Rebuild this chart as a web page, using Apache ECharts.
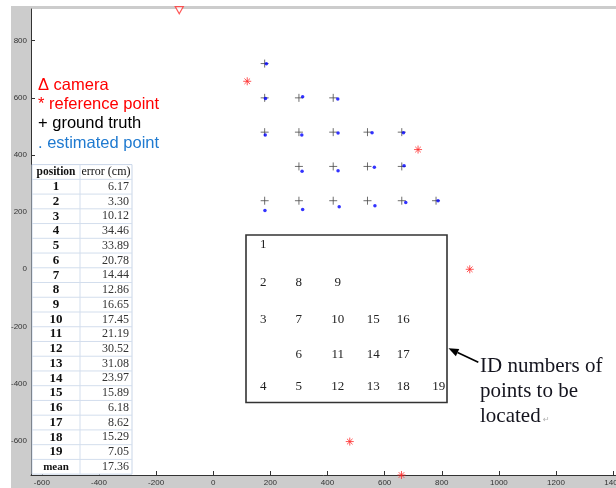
<!DOCTYPE html>
<html><head><meta charset="utf-8">
<script src="https://cdn.jsdelivr.net/npm/echarts@6/dist/echarts.min.js"></script>
<style>
html,body{margin:0;padding:0;background:#fff;overflow:hidden;}
#bg{position:absolute;left:11px;top:6px;width:605px;height:482px;background:#cccccc;}
#chart{position:absolute;left:0;top:0;width:616px;height:488px;}
</style>
</head><body><div id="bg"></div><div id="chart"></div>
<script>
// ---- data ----
const pointIds   = [1,2,3,4,5,6,7,8,9,10,11,12,13,14,15,16,17,18,19];
const errorsCm   = [6.17,3.30,10.12,34.46,33.89,20.78,14.44,12.86,16.65,17.45,21.19,30.52,31.08,23.97,15.89,6.18,8.62,15.29,7.05];
const meanError  = 17.36;
const truthX     = [180,180,180,180,300,300,300,300,420,420,420,420,540,540,540,660,660,660,780];
const truthY     = [720,600,480,240,240,360,480,600,600,480,360,240,240,360,480,480,360,240,240];
const estX       = [186,183,182,181,313,311,310,313,436,437,437,441,566,564,556,666,668,674,787];
const estY       = [719,598,470,206,209,343,470,604,596,477,345,219,222,357,478,478,362,234,240];
const refX       = [119,717,898,478,659];
const refY       = [658,419,0,-603,-720];
const cameraX    = [-119];
const cameraY    = [907];
const xTickVals  = [-600,-400,-200,0,200,400,600,800,1000,1200,1400];
const yTickVals  = [-600,-400,-200,0,200,400,600,800];
const legendLines = ['\u0394 camera','* reference point','+ ground truth','. estimated point'];
const calloutLines = ['ID numbers of','points to be','located'];

// ---- layout / style ----
const zip = (a,b) => a.map((v,i)=>[v,b[i]]);
const graphics = [];

// legend text
const legendColors = ['#ff0000','#ff0000','#000000','#1f7ad0'];
legendLines.forEach((t,i)=>{
  graphics.push({type:'text', z:100, style:{text:t, x:38, y:85.3+i*19.3, textAlign:'left', textVerticalAlign:'middle',
    fontSize:16.5, fontFamily:'"Liberation Sans", Arial, sans-serif', fill:legendColors[i]}});
});

// table
const tX0=32, tX1=132, tMid=80, tTop=164.6, rowH=14.74;
const nRows = pointIds.length + 2;
graphics.push({type:'rect', z:99, shape:{x:tX0, y:tTop, width:tX1-tX0, height:rowH*nRows},
  style:{fill:'#fff', stroke:'#c9d6e8', lineWidth:1}});
for (let k=1;k<nRows;k++){
  graphics.push({type:'line', z:99, shape:{x1:tX0, y1:tTop+k*rowH, x2:tX1, y2:tTop+k*rowH}, style:{stroke:'#d3deed', lineWidth:1}});
}
graphics.push({type:'line', z:99, shape:{x1:tMid, y1:tTop, x2:tMid, y2:tTop+rowH*nRows}, style:{stroke:'#d3deed', lineWidth:1}});
const serif = '"Liberation Serif","DejaVu Serif",serif';
const rowY = k => tTop + rowH*(k+0.5);
graphics.push({type:'text', z:101, style:{text:'position', x:56, y:rowY(0), textAlign:'center', textVerticalAlign:'middle', fontSize:11.5, fontWeight:'bold', fontFamily:serif, fill:'#111'}});
graphics.push({type:'text', z:101, style:{text:'error (cm)', x:106, y:rowY(0), textAlign:'center', textVerticalAlign:'middle', fontSize:12, fontFamily:serif, fill:'#111'}});
pointIds.forEach((id,i)=>{
  graphics.push({type:'text', z:101, style:{text:String(id), x:56, y:rowY(i+1), textAlign:'center', textVerticalAlign:'middle', fontSize:13, fontWeight:'bold', fontFamily:serif, fill:'#111'}});
  graphics.push({type:'text', z:101, style:{text:errorsCm[i].toFixed(2), x:129, y:rowY(i+1), textAlign:'right', textVerticalAlign:'middle', fontSize:12, fontFamily:serif, fill:'#333'}});
});
graphics.push({type:'text', z:101, style:{text:'mean', x:56, y:rowY(nRows-1), textAlign:'center', textVerticalAlign:'middle', fontSize:11, fontWeight:'bold', fontFamily:serif, fill:'#111'}});
graphics.push({type:'text', z:101, style:{text:meanError.toFixed(2), x:129, y:rowY(nRows-1), textAlign:'right', textVerticalAlign:'middle', fontSize:12, fontFamily:serif, fill:'#333'}});

// ID box
graphics.push({type:'rect', z:99, shape:{x:246, y:235, width:201, height:167.5}, style:{fill:'#fff', stroke:'#333', lineWidth:1.6}});
const boxColX = [263.3, 298.7, 337.7, 373.3, 403.3, 438.7];
const boxRowY = [245, 283, 319.5, 354.5, 386.5];
pointIds.forEach((id,i)=>{
  const c = Math.round((truthX[i]-180)/120), r = Math.round((720-truthY[i])/120);
  graphics.push({type:'text', z:101, style:{text:String(id), x:boxColX[c], y:boxRowY[r], textAlign:'center', textVerticalAlign:'middle', fontSize:13, fontFamily:serif, fill:'#222'}});
});

// arrow + callout
const ax1=478.3, ay1=362.3, ax2=448.5, ay2=348.3;
const ang = Math.atan2(ay2-ay1, ax2-ax1), hl=10, hw=4;
const bx = ax2 - hl*Math.cos(ang), by = ay2 - hl*Math.sin(ang);
graphics.push({type:'line', z:101, shape:{x1:ax1, y1:ay1, x2:bx, y2:by}, style:{stroke:'#000', lineWidth:1.6}});
graphics.push({type:'polygon', z:101, shape:{points:[[ax2,ay2],[bx - hw*Math.sin(ang), by + hw*Math.cos(ang)],[bx + hw*Math.sin(ang), by - hw*Math.cos(ang)]]}, style:{fill:'#000'}});
calloutLines.forEach((t,i)=>{
  graphics.push({type:'text', z:101, style:{text:t, x:480, y:366.7+i*25, textAlign:'left', textVerticalAlign:'middle', fontSize:21, fontFamily:serif, fill:'#14141e'}});
});
graphics.push({type:'text', z:101, style:{text:'\u21b5', x:543, y:420, textAlign:'left', textVerticalAlign:'middle', fontSize:8, fontFamily:'"DejaVu Sans",sans-serif', fill:'#b0b0b0'}});

const axisCommon = {
  axisLine:{show:true, onZero:false, lineStyle:{color:'#333', width:1}},
  splitLine:{show:false},
};
const plain = v => String(v);

const option = {
  animation:false,
  backgroundColor:'transparent',
  grid:{left:31, top:9, width:585, height:466, show:true, backgroundColor:'#fff', borderWidth:0, containLabel:false, outerBoundsMode:'none'},
  xAxis:Object.assign({type:'value', min:-638, max:1410, position:'bottom',
    axisTick:{show:true, inside:true, length:4, customValues:xTickVals, lineStyle:{color:'#333'}},
    axisLabel:{customValues:xTickVals, formatter:plain, fontSize:8, color:'#333', margin:4, fontFamily:'"Liberation Sans Narrow","Liberation Sans",Arial,sans-serif'}
  }, axisCommon),
  yAxis:Object.assign({type:'value', min:-720, max:911, position:'left',
    axisTick:{show:true, inside:true, length:4, customValues:yTickVals, lineStyle:{color:'#333'}},
    axisLabel:{customValues:yTickVals, formatter:plain, fontSize:8, color:'#333', margin:4, fontFamily:'"Liberation Sans",Arial,sans-serif'}
  }, axisCommon),
  series:[
    {type:'scatter', name:'reference point', data:zip(refX,refY), clip:false, silent:true,
      symbol:'path://M0,5L10,5M5,0L5,10M1.5,1.5L8.5,8.5M1.5,8.5L8.5,1.5', symbolSize:8,
      itemStyle:{color:'none', borderColor:'#ff2a2a', borderWidth:1}},
    {type:'scatter', name:'camera', data:zip(cameraX,cameraY), clip:false, silent:true,
      symbol:'triangle', symbolRotate:180, symbolSize:[8,7],
      itemStyle:{color:'#fff', borderColor:'#ff3030', borderWidth:1.2}},
    {type:'scatter', name:'ground truth', data:zip(truthX,truthY), clip:false, silent:true,
      symbol:'path://M0,5L10,5M5,0L5,10', symbolSize:8,
      itemStyle:{color:'none', borderColor:'#4a4a4a', borderWidth:1}},
    {type:'scatter', name:'estimated point', data:zip(estX,estY), clip:false, silent:true,
      symbol:'circle', symbolSize:3.5,
      itemStyle:{color:'#0000ff'}}
  ],
  graphic:{elements:graphics}
};
const chart = echarts.init(document.getElementById('chart'), null, {renderer:'canvas'});
chart.setOption(option);
</script></body></html>
